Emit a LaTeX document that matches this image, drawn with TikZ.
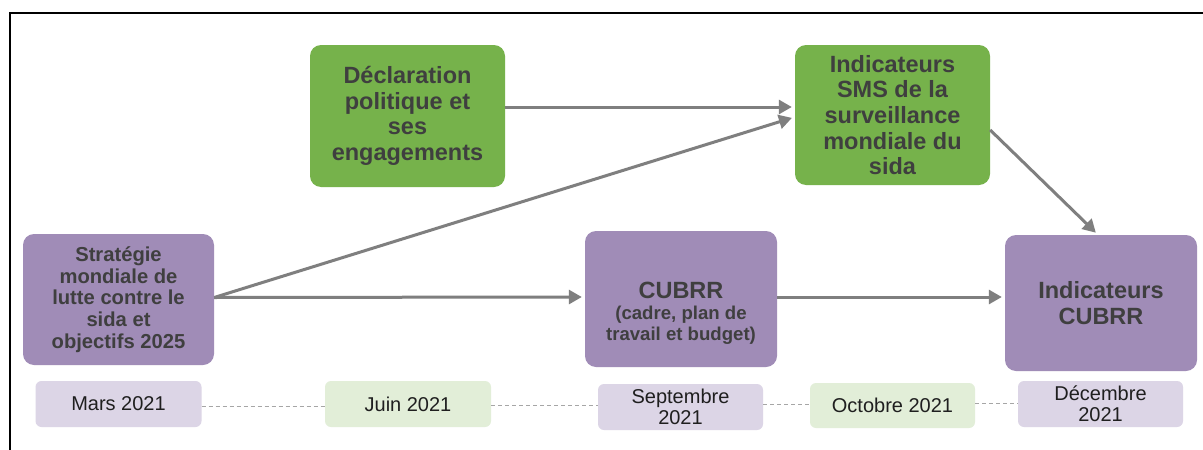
\documentclass[tikz,border=0pt]{standalone}
\usepackage{fontspec}
\setmainfont{Liberation Sans}
\usetikzlibrary{arrows.meta}
\definecolor{grn}{HTML}{76B24B}
\definecolor{pur}{HTML}{A08CB7}
\definecolor{lpur}{HTML}{DCD5E6}
\definecolor{lgrn}{HTML}{E2EED8}
\definecolor{txt}{HTML}{3F3F3F}
\definecolor{arr}{HTML}{7F7F7F}
\definecolor{dsh}{HTML}{A6A6A6}
\newcommand{\bigfs}{\fontsize{23.5}{25.7}\selectfont}
\newcommand{\midfs}{\fontsize{20.2}{21.7}\selectfont}
\newcommand{\smfs}{\fontsize{18.6}{20.7}\selectfont}
\newcommand{\datefs}{\fontsize{20}{21}\selectfont}
\tikzset{
  bigbox/.style={rounded corners=11pt, inner sep=0pt, align=center, text=txt, font=\bfseries\bigfs},
  greenbox/.style={bigbox, fill=grn},
  purplebox/.style={bigbox, fill=pur},
  datebox/.style={rounded corners=6pt, inner sep=0pt, align=center, text=black!88, font=\datefs, minimum width=166pt, minimum height=46pt},
  flow/.style={draw=arr, line width=3pt, -{Triangle[length=13pt,width=14pt]}, shorten >=3pt},
  link/.style={draw=dsh, line width=1pt, dash pattern=on 4pt off 3pt}
}
\begin{document}
\begin{tikzpicture}[x=1pt,y=-1pt]
\useasboundingbox (0,0) rectangle (1203,450);
\fill[white] (0,0) rectangle (1203,450);
\draw[line width=2pt] (10,450) -- (10,13) -- (1204,13);

\node[greenbox, minimum width=195pt, minimum height=142pt] (decl) at (407.5,116)
  {D\'eclaration\\politique et\\ses\\engagements};
\node[greenbox, minimum width=195pt, minimum height=140pt] (sms) at (892.5,115)
  {Indicateurs\\SMS de la\\surveillance\\mondiale du\\sida};
\node[purplebox, font=\bfseries\midfs, minimum width=191pt, minimum height=131pt] (strat) at (118.5,299.5)
  {Strat\'egie\\mondiale de\\lutte contre le\\sida et\\objectifs 2025};
\node[purplebox, font=\bfseries\smfs, minimum width=192pt, minimum height=136pt] (cubrr) at (681,299)
  {{\rule{0pt}{45pt}\bigfs CUBRR}\\(cadre, plan de\\travail et budget)};
\node[purplebox, minimum width=192pt, minimum height=136pt] (indc) at (1101,303)
  {Indicateurs\\CUBRR};

\node[datebox, fill=lpur] (mars) at (118.5,404) {Mars 2021};
\node[datebox, fill=lgrn] (juin) at (408,404) {Juin 2021};
\node[datebox, fill=lpur, minimum width=165pt] (sept) at (680.5,407) {Septembre\\2021};
\node[datebox, fill=lgrn, minimum width=165pt, minimum height=45pt] (oct) at (892.5,405.5) {Octobre 2021};
\node[datebox, fill=lpur, minimum width=165pt] (dec) at (1100.5,404) {D\'ecembre\\2021};

\draw[link] ([yshift=-2pt]mars.east) -- ([yshift=-2pt]mars.east -| juin.west);
\draw[link] ([yshift=-1pt]juin.east) -- ([yshift=-1pt]juin.east -| sept.west);
\draw[link] ([yshift=3pt]sept.east) -- ([yshift=3pt]sept.east -| oct.west);
\draw[link] ([yshift=2.5pt]oct.east) -- ([yshift=2.5pt]oct.east -| dec.west);

\draw[flow] ([yshift=9pt]decl.east) -- ([yshift=8pt]sms.west);
\draw[flow] ([yshift=2pt]strat.east) -- ([yshift=-2pt]sms.west);
\draw[flow] ([yshift=2pt]strat.east) -- ([yshift=2pt]cubrr.west);
\draw[flow] ([yshift=2pt]cubrr.east) -- ([yshift=6pt]indc.west);
\draw[flow] ([yshift=-15pt]sms.east) -- ([xshift=-3pt]indc.north);
\end{tikzpicture}
\end{document}
